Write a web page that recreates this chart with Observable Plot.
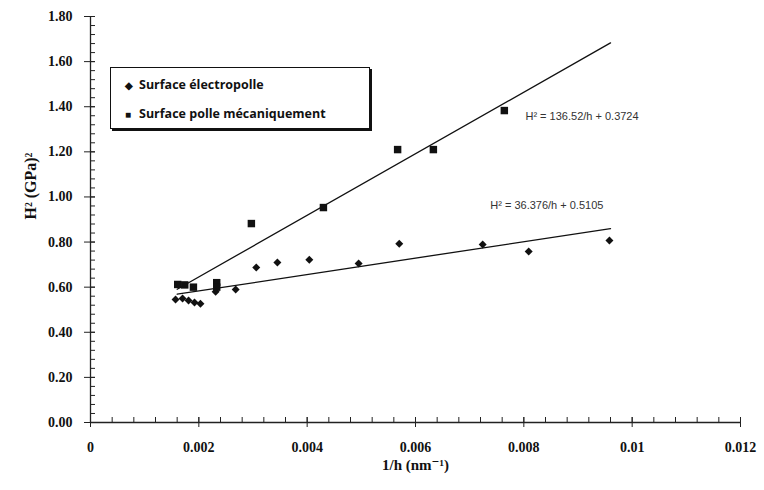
<!DOCTYPE html>
<html>
<head>
<meta charset="utf-8">
<script src="https://cdn.jsdelivr.net/npm/d3@7"></script>
<script src="https://cdn.jsdelivr.net/npm/@observablehq/plot@0.6"></script>
<style>
  html, body { margin: 0; padding: 0; background: #fff; }
  #wrap { position: relative; width: 764px; height: 490px; }
  #legend {
    position: absolute; left: 110px; top: 67px; width: 258px; height: 60px;
    border: 1px solid #111; box-shadow: 2px 2px 0 #111; background: #fff;
    font-family: "Open Sans", "Noto Sans", sans-serif; font-weight: 700; font-size: 12.5px; color: #111;
  }
  #legend .row { position: absolute; left: 14px; white-space: nowrap; }
  #legend .sym { display: inline-block; width: 14px; font-size: 10px; }
</style>
</head>
<body>
<div id="wrap"><div id="legend"></div></div>
<script>
const seriesNames = ["Surface électropolle", "Surface polle mécaniquement"];

// Surface électropolle (diamonds)
const electroX = [0.00157, 0.00170, 0.00181, 0.00192, 0.00203, 0.00231, 0.00268, 0.00306, 0.00345, 0.00404, 0.00495, 0.00570, 0.00724, 0.00809, 0.00958];
const electroY = [0.545, 0.550, 0.541, 0.532, 0.527, 0.580, 0.590, 0.687, 0.709, 0.722, 0.705, 0.793, 0.789, 0.758, 0.807];

// Surface polle mécaniquement (squares)
const mecaX = [0.00161, 0.00174, 0.00190, 0.00233, 0.00233, 0.00297, 0.00430, 0.00567, 0.00633, 0.00764];
const mecaY = [0.612, 0.610, 0.600, 0.620, 0.600, 0.882, 0.953, 1.210, 1.210, 1.383];

// Linear fits as printed on the chart: H² = a/h + b
const fitSlope = [36.376, 136.52];
const fitIntercept = [0.5105, 0.3724];
const fitRange = [0.0016, 0.0096];
const fitLabels = ["H² = 36.376/h + 0.5105", "H² = 136.52/h + 0.3724"];
const fitLabelX = [0.00738, 0.00803];
const fitLabelY = [0.962, 1.356];

const xMajor = [0, 0.002, 0.004, 0.006, 0.008, 0.01, 0.012];
const xMajorLabels = ["0", "0.002", "0.004", "0.006", "0.008", "0.01", "0.012"];
const xMinor = d3.range(0, 31).map(i => +(i * 0.0004).toFixed(4));
const yMajor = [0, 0.2, 0.4, 0.6, 0.8, 1.0, 1.2, 1.4, 1.6, 1.8];
const yMinor = d3.range(0, 46).map(i => +(i * 0.04).toFixed(2));

const xTitle = "1/h (nm⁻¹)";
const yTitle = "H² (GPa)²";

const electro = electroX.map((x, i) => ({x, y: electroY[i]}));
const meca = mecaX.map((x, i) => ({x, y: mecaY[i]}));
const fits = fitSlope.flatMap((a, k) => fitRange.map(x => ({k, x, y: a * x + fitIntercept[k]})));
const fitText = fitLabels.map((t, i) => ({t, x: fitLabelX[i], y: fitLabelY[i]}));

const serif = "'Liberation Serif', 'DejaVu Serif', serif";
const blank = () => "";

const chart = Plot.plot({
  width: 764,
  height: 490,
  marginLeft: 90,
  marginRight: 24,
  marginTop: 16,
  marginBottom: 68,
  style: {fontFamily: serif, background: "#fff", color: "#111"},
  x: {domain: [0, 0.012], label: null},
  y: {domain: [0, 1.8], label: null},
  marks: [
    // minor ticks
    Plot.axisX({ticks: xMinor, tickSize: -5, tickFormat: blank, label: null, stroke: "#222"}),
    Plot.axisY({ticks: yMinor, tickSize: -5, tickFormat: blank, label: null, stroke: "#222"}),
    // major ticks crossing the axis
    Plot.axisX({ticks: xMajor, tickSize: -5, tickFormat: blank, label: null, stroke: "#222"}),
    Plot.axisY({ticks: yMajor, tickSize: -5, tickFormat: blank, label: null, stroke: "#222"}),
    Plot.axisX({ticks: xMajor, tickSize: 5, tickPadding: 15, tickFormat: (d, i) => xMajorLabels[i],
      fontSize: 14, fontWeight: "bold", fontFamily: serif, label: null, stroke: "#222"}),
    Plot.axisY({ticks: yMajor, tickSize: 6, tickPadding: 12, tickFormat: d => d.toFixed(2),
      fontSize: 14, fontWeight: "bold", fontFamily: serif, label: null, stroke: "#222"}),
    Plot.ruleX([0], {stroke: "#222", strokeWidth: 1.3}),
    Plot.ruleY([0], {stroke: "#222", strokeWidth: 1.3}),
    // fit lines
    Plot.line(fits, {x: "x", y: "y", z: "k", stroke: "#111", strokeWidth: 1.3}),
    // data
    Plot.dot(meca, {x: "x", y: "y", symbol: "square", r: 4.2, fill: "#111", stroke: "none"}),
    Plot.dot(electro, {x: "x", y: "y", symbol: "diamond2", r: 3.6, fill: "#111", stroke: "none"}),
    // fit equations
    Plot.text(fitText, {x: "x", y: "y", text: "t", textAnchor: "start", fontSize: 11,
      fontFamily: "'Liberation Sans', Arial, sans-serif", fill: "#333"}),
    // axis titles
    Plot.text([xTitle], {frameAnchor: "bottom", dy: 47, fontSize: 15, fontWeight: "bold", fontFamily: serif, fill: "#111"}),
    Plot.text([yTitle], {frameAnchor: "left", dx: -60, rotate: -90, fontSize: 16, fontWeight: "bold", fontFamily: serif, fill: "#111"})
  ]
});

const wrap = document.getElementById("wrap");
wrap.insertBefore(chart, wrap.firstChild);

const legend = document.getElementById("legend");
const syms = ["◆", "■"];
const tops = [8, 37];
seriesNames.forEach((name, i) => {
  const row = document.createElement("div");
  row.className = "row";
  row.style.top = tops[i] + "px";
  row.innerHTML = `<span class="sym">${syms[i]}</span>${name}`;
  legend.appendChild(row);
});
</script>
</body>
</html>
